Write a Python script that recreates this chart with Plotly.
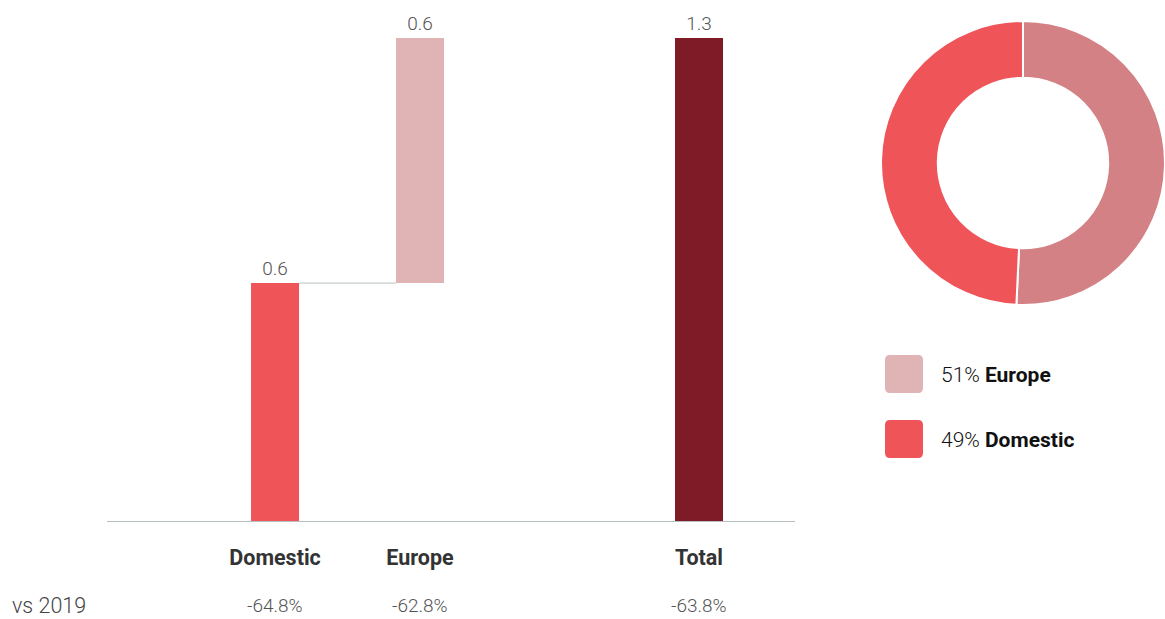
import plotly.graph_objects as go

# ---- data ----
categories = ["Domestic", "Europe", "Total"]
segment_values = [0.63, 0.649]          # Domestic, Europe increments
total_value = sum(segment_values)
vs_2019 = ["-64.8%", "-62.8%", "-63.8%"]
pie_labels = ["Europe", "Domestic"]
pie_values = [segment_values[1], segment_values[0]]

# ---- styling ----
bar_colors = ["#ef5459", "#e0b4b5", "#7f1a27"]
pie_colors = ["#d38184", "#ef5459"]
legend_colors = ["#e0b4b5", "#ef5459"]
FONT = "Roboto"

W, H = 1165, 619
ML, MR, MT, MB = 107, 0, 10, 98
PW, PH = W - ML - MR, H - MT - MB


def px_x(x):
    return (x - ML) / PW


def px_y(y):
    return (H - MB - y) / PH


x_pos = [0, 1, 2.924]
bar_base = [0, segment_values[0], 0]
bar_height = [segment_values[0], segment_values[1], total_value]

fig = go.Figure()
fig.add_trace(go.Bar(
    x=x_pos, y=bar_height, base=bar_base, width=0.331,
    marker=dict(color=bar_colors, line=dict(width=0)),
    texttemplate="%{y:.1f}", textposition="outside",
    textfont=dict(family=FONT, size=19, color="#555555", weight=300),
    cliponaxis=False, hoverinfo="skip", showlegend=False,
))
# connector between Domestic and Europe
fig.add_trace(go.Scatter(
    x=[x_pos[0] + 0.331 / 2, x_pos[1] - 0.331 / 2],
    y=[segment_values[0], segment_values[0]],
    mode="lines", line=dict(color="#b8bfc2", width=1),
    hoverinfo="skip", showlegend=False,
))

fig.add_trace(go.Pie(
    labels=pie_labels, values=pie_values, hole=0.6, sort=False,
    direction="clockwise", rotation=0,
    marker=dict(colors=pie_colors, line=dict(color="white", width=2)),
    textinfo="none", hoverinfo="label+percent", showlegend=False,
    domain=dict(x=[px_x(881), 1.0], y=[px_y(305), px_y(21)]),
))

fig.update_layout(
    width=W, height=H,
    margin=dict(l=ML, r=MR, t=MT, b=MB),
    plot_bgcolor="white", paper_bgcolor="white",
    font=dict(family=FONT),
    xaxis=dict(
        domain=[0, px_x(795)], range=[-1.159, 3.586],
        tickvals=x_pos, ticktext=[f"<b>{c}</b>" for c in categories],
        tickfont=dict(family=FONT, size=21.5, color="#333333"),
        ticks="outside", ticklen=17, tickcolor="rgba(0,0,0,0)",
        showline=True, linecolor="#b8bfc2", linewidth=1,
        showgrid=False, zeroline=False, fixedrange=True,
    ),
    yaxis=dict(
        range=[0, total_value * (H - MB - MT) / (H - MB - 38)],
        visible=False, showgrid=False, zeroline=False, fixedrange=True,
    ),
)

# vs 2019 row
fig.add_annotation(
    x=px_x(10), y=px_y(605), xref="paper", yref="paper",
    text="vs 2019", showarrow=False, xanchor="left", yanchor="middle",
    font=dict(family=FONT, size=21.5, color="#444444", weight=300),
)
for xp, v in zip(x_pos, vs_2019):
    fig.add_annotation(
        x=xp, y=px_y(605), xref="x", yref="paper", text=v,
        showarrow=False, xanchor="center", yanchor="middle",
        font=dict(family=FONT, size=19, color="#555555", weight=300),
    )

# custom legend with rounded swatches
share_total = sum(pie_values)
for i, (lab, val, col) in enumerate(zip(pie_labels, pie_values, legend_colors)):
    top = 355 + i * 65
    left, size, r = 885, 38, 5
    x0, x1 = left, left + size
    y0, y1 = top, top + size
    path = (
        f"M {px_x(x0 + r)},{px_y(y0)} L {px_x(x1 - r)},{px_y(y0)} "
        f"Q {px_x(x1)},{px_y(y0)} {px_x(x1)},{px_y(y0 + r)} "
        f"L {px_x(x1)},{px_y(y1 - r)} Q {px_x(x1)},{px_y(y1)} {px_x(x1 - r)},{px_y(y1)} "
        f"L {px_x(x0 + r)},{px_y(y1)} Q {px_x(x0)},{px_y(y1)} {px_x(x0)},{px_y(y1 - r)} "
        f"L {px_x(x0)},{px_y(y0 + r)} Q {px_x(x0)},{px_y(y0)} {px_x(x0 + r)},{px_y(y0)} Z"
    )
    fig.add_shape(type="path", path=path, xref="paper", yref="paper",
                  fillcolor=col, line=dict(width=0))
    pct = round(val / share_total * 100)
    fig.add_annotation(
        x=px_x(939), y=px_y(top + size / 2 + 1), xref="paper", yref="paper",
        text=f"{pct}% <b>{lab}</b>", showarrow=False,
        xanchor="left", yanchor="middle",
        font=dict(family=FONT, size=21, color="#111111", weight=300),
    )

fig.write_html(
    "out.html",
    config={"displayModeBar": False},
    post_script="document.body.style.margin='0';document.body.style.overflow='hidden';",
)
